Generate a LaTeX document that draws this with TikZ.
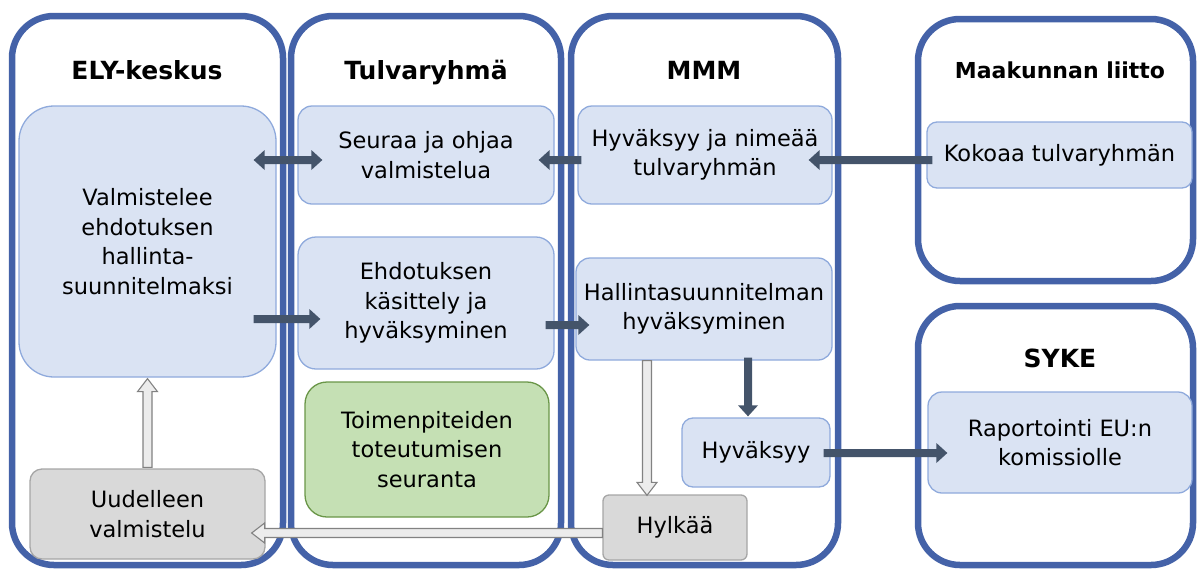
\documentclass[tikz,border=0pt]{standalone}
\usepackage{fontspec}
\setmainfont{DejaVu Sans}
\usetikzlibrary{calc}
\definecolor{lanec}{RGB}{68,98,168}
\definecolor{boxf}{RGB}{218,227,243}
\definecolor{boxd}{RGB}{143,170,220}
\definecolor{grnf}{RGB}{197,224,180}
\definecolor{grnd}{RGB}{106,150,72}
\definecolor{gryf}{RGB}{217,217,217}
\definecolor{gryd}{RGB}{166,166,166}
\definecolor{arrc}{RGB}{68,84,106}
\definecolor{holf}{RGB}{236,236,236}
\definecolor{hold}{RGB}{130,130,130}
\newcommand\bodyfnt{\fontsize{22.5}{29.5}\selectfont}
\newcommand\titlefnt{\fontsize{25}{30}\selectfont\bfseries}
\newcommand\smtitlefnt{\fontsize{22}{28}\selectfont\bfseries}
\tikzset{
 lane/.style={draw=lanec, line width=6.5pt, rounded corners=42pt, inner sep=0pt},
 bbox/.style={draw=boxd, fill=boxf, line width=1.3pt, inner sep=0pt, align=center, font=\bodyfnt},
 gbox/.style={bbox, draw=grnd, fill=grnf},
 ybox/.style={bbox, draw=gryd, fill=gryf},
 ttl/.style={font=\titlefnt, anchor=base, inner sep=0pt},
 blk/.style n args={3}{to path={let \p1=(\tikztostart), \p2=(\tikztotarget), \p3=($(\p2)!#3!(\p1)$) in
   ($(\p1)!#1!90:(\p2)$) -- ($(\p3)!#1!90:(\p2)$) -- ($(\p3)!#2!90:(\p2)$) -- (\p2)
   -- ($(\p3)!#2!-90:(\p2)$) -- ($(\p3)!#1!-90:(\p2)$) -- ($(\p1)!#1!-90:(\p2)$) -- cycle}},
 blkk/.style n args={3}{to path={let \p1=(\tikztostart), \p2=(\tikztotarget), \p3=($(\p2)!#3!(\p1)$), \p4=($(\p1)!#3!(\p2)$) in
   (\p1) -- ($(\p4)!#2!90:(\p2)$) -- ($(\p4)!#1!90:(\p2)$) -- ($(\p3)!#1!90:(\p2)$) -- ($(\p3)!#2!90:(\p2)$) -- (\p2)
   -- ($(\p3)!#2!-90:(\p2)$) -- ($(\p3)!#1!-90:(\p2)$) -- ($(\p4)!#1!-90:(\p2)$) -- ($(\p4)!#2!-90:(\p2)$) -- cycle}},
 darr/.style={fill=arrc, blk={4pt}{10pt}{11pt}},
 ddarr/.style={fill=arrc, blkk={4pt}{10pt}{11pt}},
 harr/.style={fill=holf, draw=hold, line width=1.1pt, line join=miter, blk={4.5pt}{10pt}{13pt}},
}
\begin{document}
\begin{tikzpicture}[x=1pt,y=-1pt]
\useasboundingbox (0,0) rectangle (1197,571);
% lanes
\node[lane, minimum width=271pt, minimum height=549pt] (ely) at (147.5,290.5) {};
\node[lane, minimum width=270pt, minimum height=549pt] (tul) at (426,290.5) {};
\node[lane, minimum width=267pt, minimum height=549pt] (mmm) at (704.5,290.5) {};
\node[lane, minimum width=275pt, minimum height=262pt] (maa) at (1055.5,150) {};
\node[lane, minimum width=275pt, minimum height=259pt] (syk) at (1055.5,435.5) {};
% titles
\node[ttl] (tely) at (147,79) {ELY-keskus};
\node[ttl] (ttul) at (426,79) {Tulvaryhmä};
\node[ttl] (tmmm) at (704,79) {MMM};
\node[ttl, font=\smtitlefnt] (tmaa) at (1060,78) {Maakunnan liitto};
\node[ttl] (tsyk) at (1060,367) {SYKE};
% boxes
\node[bbox, minimum width=257pt, minimum height=271pt, rounded corners=35pt] (val) at (147.5,241.5) {\raisebox{3pt}{\parbox{250pt}{\centering Valmistelee\\ehdotuksen\\hallinta-\\suunnitelmaksi}}};
\node[bbox, minimum width=256pt, minimum height=98pt, rounded corners=14pt] (seu) at (426,155) {Seuraa ja ohjaa\\valmistelua};
\node[bbox, minimum width=256pt, minimum height=132pt, rounded corners=18pt] (ehd) at (426,303) {Ehdotuksen\\käsittely ja\\hyväksyminen};
\node[gbox, minimum width=244pt, minimum height=135pt, rounded corners=22pt] (toi) at (427,449.5) {Toimenpiteiden\\toteutumisen\\seuranta};
\node[ybox, minimum width=235pt, minimum height=90pt, rounded corners=12pt] (uud) at (147.5,514) {Uudelleen\\valmistelu};
\node[bbox, minimum width=254pt, minimum height=98pt, rounded corners=14pt] (hyn) at (705,155) {Hyväksyy ja nimeää\\tulvaryhmän};
\node[bbox, minimum width=256pt, minimum height=102pt, rounded corners=14pt] (hal) at (704,309) {Hallintasuunnitelman\\hyväksyminen};
\node[bbox, minimum width=148pt, minimum height=69pt, rounded corners=11pt] (hyv) at (756,452.5) {Hyväksyy};
\node[ybox, minimum width=144pt, minimum height=65pt, rounded corners=6pt] (hyl) at (675,527.5) {Hylkää};
\node[bbox, minimum width=265pt, minimum height=66pt, rounded corners=10pt] (kok) at (1059.5,155) {\raisebox{-4pt}{Kokoaa tulvaryhmän}};
\node[bbox, minimum width=264pt, minimum height=101pt, rounded corners=14pt] (rap) at (1060,442.5) {Raportointi EU:n\\komissiolle};
% dark arrows
\path[ddarr] ($(val.east |- seu.west)+(-23,5)$) to ($(seu.west)+(25,5)$);
\path[darr] ($(val.east |- ehd.west)+(-23,16)$) to ($(ehd.west)+(23,16)$);
\path[darr] ($(hyn.west)+(4,5)$) to ($(seu.east)+(-16,5)$);
\path[darr] ($(kok.west)+(6,5)$) to ($(hyn.east)+(-24,5)$);
\path[darr] ($(ehd.east)+(-9,22)$) to ($(hal.west)+(14,16)$);
\path[darr] ($(hal.south -| hyv.north)+(-8,-3)$) to ($(hyv.north)+(-8,-1)$);
\path[darr] ($(hyv.east)+(-7,0.5)$) to ($(rap.west)+(20,10.5)$);
% hollow arrows
\path[harr] ($(hal.south -| hyl.north)+(-28,0)$) to ($(hyl.north)+(-28,1)$);
\path[harr] ($(hyl.west)+(0,5.5)$) to ($(uud.east)+(-14,19)$);
\path[harr] ($(uud.north)+(0,-1)$) to ($(val.south)+(0,1)$);
\end{tikzpicture}
\end{document}
